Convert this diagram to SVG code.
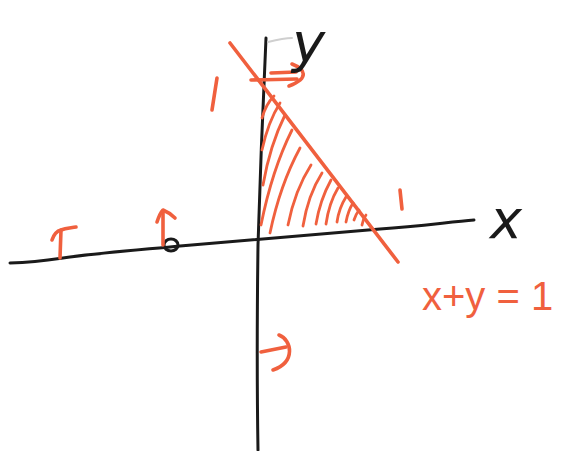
<svg xmlns="http://www.w3.org/2000/svg" width="561" height="451" viewBox="0 0 561 451">
<style>
.ink{fill:none;stroke:#1a1a1a;stroke-width:3;stroke-linecap:round;stroke-linejoin:round}
.red{fill:none;stroke:#f0603e;stroke-width:3.6;stroke-linecap:round;stroke-linejoin:round}
.hatch{fill:none;stroke:#f0603e;stroke-width:2.8;stroke-linecap:round}
.lblk{font-family:"DejaVu Sans",sans-serif;font-style:italic;fill:#1a1a1a}
.lred{font-family:"Liberation Sans",sans-serif;fill:#f0603e}
</style>
<rect width="561" height="451" fill="#ffffff"/>
<g id="axes">
<path class="ink" d="M10,263 C40,262 55,259 70,257 C110,252 150,249 180,246 C230,242 300,236 380,229 C420,226 450,222 474,220"/>
<path class="ink" d="M266,38 C263,100 260,180 258,245 C257,320 257,390 258,450"/>
<path d="M268,42 C276,40 284,38 292,38" fill="none" stroke="#cfcfcf" stroke-width="2" stroke-linecap="round"/>
<ellipse class="ink" cx="171" cy="245" rx="7" ry="6"/>
</g>
<g id="constraint-line">
<path class="red" d="M230,43 L398,262"/>
</g>
<g id="hatching">
<path class="hatch" d="M262,118 Q266,104 274,96"/>
<path class="hatch" d="M262,150 Q268,122 280,103"/>
<path class="hatch" d="M263,185 Q270,145 285,115"/>
<path class="hatch" d="M261,225 Q272,170 292,130"/>
<path class="hatch" d="M270,233 Q280,185 300,148"/>
<path class="hatch" d="M288,225 Q295,190 311,165"/>
<path class="hatch" d="M303,226 Q308,195 322,173"/>
<path class="hatch" d="M316,224 Q320,200 331,180"/>
<path class="hatch" d="M326,224 Q329,203 338,188"/>
<path class="hatch" d="M337,222 Q339,208 346,197"/>
<path class="hatch" d="M346,222 Q348,211 353,203"/>
<path class="hatch" d="M354,220 Q356,214 359,210"/>
<path class="hatch" d="M362,225 Q363,219 366,215"/>
</g>
<g id="arrows">
<path class="red" d="M251,80 L297,79"/>
<path class="red" d="M271,73 L296,72"/>
<path class="red" d="M292,64 C305,69 310,78 289,86"/>
<path class="red" d="M60,258 L61,230"/>
<path class="red" d="M52,240 C54,234 57,231 61,230 C66,228 71,228 76,227"/>
<path class="red" d="M163,245 L163,211"/>
<path class="red" d="M157,222 C159,216 161,212 163,210 C168,212 172,215 175,218"/>
<path class="red" d="M261,352 L286,347"/>
<path class="red" d="M279,335 C292,340 296,362 273,370"/>
</g>
<g id="labels">
<path class="red" d="M217,78 L212,110"/>
<path class="red" d="M400,190 L402,209"/>
<text class="lblk" x="292" y="62" font-size="56">y</text>
<text class="lblk" x="490" y="238" font-size="54">x</text>
<text class="lred" x="422" y="310" font-size="40">x+y = 1</text>
</g>
</svg>
